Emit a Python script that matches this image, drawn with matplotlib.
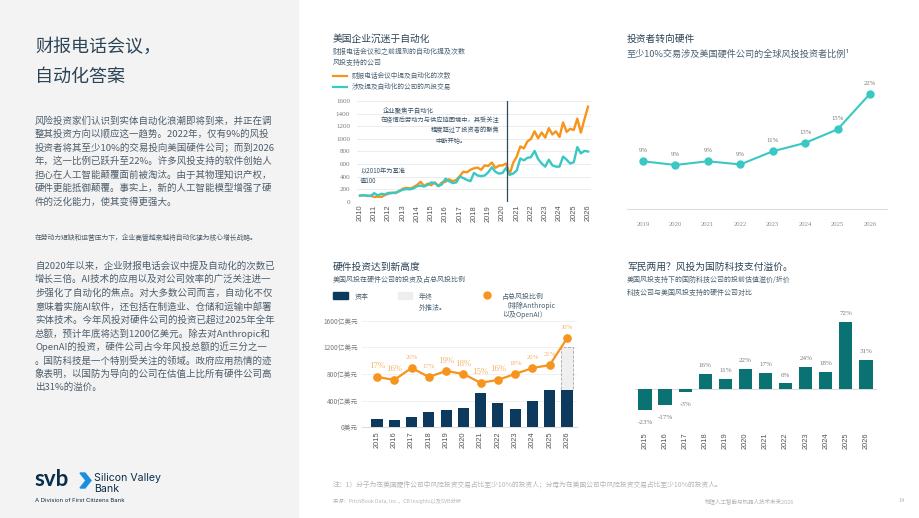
import numpy as np
import matplotlib.pyplot as plt
from matplotlib.patches import Rectangle, Polygon

plt.rcParams['font.family'] = ['Noto Sans CJK SC', 'DejaVu Sans']

W, H = 920, 518

NAVY = '#0d3a5c'
ORANGE = '#f7941d'
ORANGE_LT = '#f6b36c'
TEAL = '#3ac8c4'
DTEAL = '#0b7274'
TITLE = '#2c4456'
SUB = '#4b6272'
BODY = '#4d5e6c'
GRAY = '#7a7a7a'

# chart 1: automation mentions, quarterly, 2010 = 100
calls = [100, 105, 95, 100, 80, 85, 80, 110, 130, 150, 140, 175, 210, 225, 215, 235,
         270, 320, 255, 290, 265, 310, 255, 310, 320, 360, 330, 350, 410, 480, 470, 510,
         535, 545, 510, 580, 570, 625, 540, 575, 580, 610, 440, 620, 720, 880, 850, 960,
         1000, 1120, 1010, 1100, 1020, 1170, 1070, 1120, 1030, 1260, 1110, 1160, 1140, 1320,
         1100, 1310, 1510]
deals = [100, 110, 100, 95, 140, 105, 130, 120, 145, 140, 150, 170, 195, 205, 200, 215,
         250, 260, 245, 270, 310, 300, 250, 280, 370, 330, 300, 310, 400, 380, 350, 330,
         460, 420, 410, 420, 470, 550, 480, 450, 460, 540, 430, 450, 500, 690, 660, 700,
         710, 810, 680, 610, 560, 670, 580, 560, 560, 720, 670, 610, 630, 870, 770, 810, 800]
years1 = list(range(2010, 2027))
covid_break = 2020.3

# chart 2: share of investors with >=10% deals in US hardware
years2 = [2019, 2020, 2021, 2022, 2023, 2024, 2025, 2026]
share = [9.1, 8.4, 9.1, 8.5, 11.0, 12.6, 15.2, 22.0]
share_labels = ['9%', '9%', '9%', '9%', '11%', '13%', '15%', '22%']

# chart 3: US VC into hardware (亿美元) and share of total VC
years3 = [str(y) for y in range(2015, 2027)]
capital = [120, 110, 160, 225, 255, 295, 515, 370, 270, 390, 555, 555]
year_end_est = 1200
pct = [17, 16, 20, 17, 19, 18, 15, 16, 18, 20, 21, 30]
big_label = [1, 1, 0, 0, 1, 1, 1, 1, 0, 0, 0, 0]

# chart 4: defense tech valuation premium vs hardware
years4 = [str(y) for y in range(2015, 2027)]
premium = [-23, -17, -3, 16, 11, 22, 17, 6, 24, 18, 72, 31]

para1 = ['风险投资家们认识到实体自动化浪潮即将到来，并正在调',
         '整其投资方向以顺应这一趋势。2022年，仅有9%的风投',
         '投资者将其至少10%的交易投向美国硬件公司；而到2026',
         '年，这一比例已跃升至22%。许多风投支持的软件创始人',
         '担心在人工智能颠覆面前被淘汰。由于其物理知识产权，',
         '硬件更能抵御颠覆。事实上，新的人工智能模型增强了硬',
         '件的泛化能力，使其变得更强大。']
para2 = ['自2020年以来，企业财报电话会议中提及自动化的次数已',
         '增长三倍。AI技术的应用以及对公司效率的广泛关注进一',
         '步强化了自动化的焦点。对大多数公司而言，自动化不仅',
         '意味着实施AI软件，还包括在制造业、仓储和运输中部署',
         '实体技术。今年风投对硬件公司的投资已超过2025年全年',
         '总额，预计年底将达到1200亿美元。除去对Anthropic和',
         'OpenAI的投资，硬件公司占今年风投总额的近三分之一',
         '。国防科技是一个特别受关注的领域。政府应用热情的迹',
         '象表明，以国防为导向的公司在估值上比所有硬件公司高',
         '出31%的溢价。']

fig = plt.figure(figsize=(9.2, 5.18), dpi=100)


def px_axes(left, top, right, bottom):
    return fig.add_axes([left / W, 1 - bottom / H, (right - left) / W, (bottom - top) / H])


def ftext(x, y, s, **kw):
    kw.setdefault('va', 'center')
    fig.text(x / W, 1 - y / H, s, **kw)


def clean(ax):
    for sp in ax.spines.values():
        sp.set_visible(False)
    ax.tick_params(length=0)


# left panel
fig.patches.append(Rectangle((0, 0), 298 / W, 1, transform=fig.transFigure,
                             color='#f3f3f3', zorder=0))
ftext(35, 47, '财报电话会议，', fontsize=13, color=TITLE)
ftext(35, 77, '自动化答案', fontsize=13, color=TITLE)
for i, line in enumerate(para1):
    ftext(35, 120.7 + i * 13.5, line, fontsize=6.8, color=BODY)
ftext(35, 238, '在劳动力短缺和运营压力下，企业高管越来越将自动化视为核心增长战略。',
      fontsize=4.9, color=BODY)
for i, line in enumerate(para2):
    ftext(35, 266 + i * 13.5, line, fontsize=6.8, color=BODY)

# logo
ftext(34, 480, 'svb', fontsize=16, fontweight='bold', color='#0a2e4a',
      family=['Lato', 'DejaVu Sans'])
fig.patches.append(Polygon([(80 / W, 1 - 473 / H), (85 / W, 1 - 473 / H), (91 / W, 1 - 480.5 / H),
                            (85 / W, 1 - 488 / H), (80 / W, 1 - 488 / H), (86 / W, 1 - 480.5 / H)],
                           closed=True, transform=fig.transFigure, color='#1b8ee0'))
ftext(94, 478, 'Silicon Valley', fontsize=7.6, color='#0a2e4a', family=['Inter', 'DejaVu Sans'])
ftext(94, 488.5, 'Bank', fontsize=7.6, color='#0a2e4a', family=['Inter', 'DejaVu Sans'])
ftext(35, 501, 'A Division of First Citizens Bank', fontsize=4.3, color='#0a2e4a',
      family=['Inter', 'DejaVu Sans'])

# ---- chart 1
ftext(333, 38.5, '美国企业沉迷于自动化', fontsize=7, color=TITLE)
ftext(333, 51.5, '财报电话会议和之前提到的自动化提及次数', fontsize=5, color=SUB)
ftext(333, 63.5, '风投支持的公司', fontsize=5, color=SUB)
fig.lines.append(plt.Line2D([333 / W, 347 / W], [1 - 75.5 / H] * 2, color=ORANGE, lw=1.6,
                            transform=fig.transFigure))
fig.lines.append(plt.Line2D([333 / W, 347 / W], [1 - 86.5 / H] * 2, color=TEAL, lw=1.6,
                            transform=fig.transFigure))
ftext(352, 75.5, '财报电话会议中提及自动化的次数', fontsize=4.8, color=SUB)
ftext(352, 86.5, '涉及提及自动化的公司的风投交易', fontsize=4.8, color=SUB)

ax1 = px_axes(357, 101, 591, 202)
qx = [years1[0] + i / 4 for i in range(len(calls))]
ax1.plot(qx, calls, color=ORANGE, lw=1.7, zorder=3)
ax1.plot(qx, deals, color=TEAL, lw=1.7, zorder=3)
ax1.axvline(covid_break, color='#2d4a5a', lw=0.9, zorder=4)
ax1.set_xlim(2009.79, 2026.21)
ax1.set_ylim(0, 1600)
ax1.set_yticks(range(0, 1601, 200))
ax1.set_xticks(years1)
ax1.set_xticklabels([str(y) for y in years1], rotation=90, fontsize=5.4, color='#555555',
                    family='Liberation Sans')
ax1.tick_params(axis='y', labelsize=5, labelcolor=GRAY, pad=5)
ax1.tick_params(axis='x', pad=2)
ax1.grid(axis='y', color='#e9e9e9', lw=0.6)
ax1.set_axisbelow(True)
clean(ax1)
for lbl in ax1.get_yticklabels():
    lbl.set_family('Liberation Serif')
ftext(383, 111, '企业聚焦于自动化', fontsize=4.6, color='#3b5468')
ftext(381, 120.5, '在疫情后劳动力与供应链困境中，其受关注', fontsize=4.5, color='#3b5468')
ftext(431, 130, '程度超过了投资者的聚焦', fontsize=4.5, color='#3b5468')
ftext(435, 141.5, '中断开始。', fontsize=4.5, color='#3b5468')
ftext(360, 171.5, '以2010年为基准', fontsize=4.5, color='#3b5468')
ftext(360, 181, '值100', fontsize=4.5, color='#3b5468')

# ---- chart 2
ftext(627, 39, '投资者转向硬件', fontsize=7, color=TITLE)
ftext(627, 54.5, '至少10%交易涉及美国硬件公司的全球风投投资者比例¹', fontsize=6.6, color=SUB)
ax2 = px_axes(627, 80, 887, 209)
ax2.plot(years2, share, color=TEAL, lw=1.5, marker='o', ms=5, zorder=3)
for x, v, s in zip(years2, share, share_labels):
    ax2.annotate(s, (x, v), xytext=(0, 7.5), textcoords='offset points', ha='center',
                 va='center', fontsize=4.8, color=GRAY, family='Liberation Serif')
ax2.set_xlim(2018.51, 2026.52)
ax2.set_ylim(0, 24.6)
ax2.set_yticks([])
ax2.set_xticks(years2)
ax2.set_xticklabels([str(y) for y in years2], fontsize=4.8, color='#8a8a8a',
                    family='Liberation Serif')
ax2.tick_params(axis='x', pad=9)
clean(ax2)
ax2.spines['bottom'].set_visible(True)
ax2.spines['bottom'].set_color('#dddddd')
ax2.spines['bottom'].set_linewidth(0.8)

# ---- chart 3
ftext(333, 267, '硬件投资达到新高度', fontsize=7, color=TITLE)
ftext(333, 280, '美国风投在硬件公司的投资及占总风投比例', fontsize=5, color=SUB)
fig.patches.append(Rectangle((333 / W, 1 - 298.5 / H), 15 / W, 6.5 / H, transform=fig.transFigure,
                             color=NAVY))
fig.patches.append(Rectangle((398 / W, 1 - 298.5 / H), 14 / W, 6.5 / H, transform=fig.transFigure,
                             color='#eeeeee'))
fig.lines.append(plt.Line2D([487 / W], [1 - 294.5 / H], marker='o', ms=5, color=ORANGE,
                            transform=fig.transFigure))
ftext(355, 297, '资本', fontsize=5, color=SUB)
ftext(419, 297, '年终', fontsize=5, color=SUB)
ftext(419, 307.5, '外推法。', fontsize=5, color=SUB)
ftext(502, 297, '占总风投比例', fontsize=5, color=SUB)
ftext(502, 305.5, '（排除Anthropic', fontsize=5, color=SUB)
ftext(502, 314.5, '以及OpenAI）', fontsize=5, color=SUB)

ax3 = px_axes(362, 320.6, 577, 427.3)
x3 = np.arange(len(years3))
ax3.bar(x3, capital, width=0.64, color=NAVY, zorder=3)
ax3.bar(x3[-1], year_end_est - capital[-1], bottom=capital[-1], width=0.64, color='#efefef',
        edgecolor='#a8a8a8', linestyle='--', lw=0.6, zorder=2)
ax3.set_xlim(-0.87, 11.58)
ax3.set_ylim(0, 1600)
ax3.set_yticks([0, 400, 800, 1200, 1600])
ax3.set_yticklabels(['0美元', '400亿美元', '800亿美元', '1200亿美元', '1600亿美元'],
                    fontsize=4.8, color=GRAY)
ax3.set_xticks(x3)
ax3.set_xticklabels(years3, rotation=90, fontsize=5.4, color='#555555', family='Liberation Sans')
ax3.tick_params(axis='x', pad=3)
ax3.tick_params(axis='y', pad=3)
ax3.grid(axis='y', color='#eeeeee', lw=0.6)
ax3.set_axisbelow(True)
clean(ax3)
ax3.spines['bottom'].set_visible(True)
ax3.spines['bottom'].set_color('#dddddd')

ax3b = ax3.twinx()
ax3b.plot(x3, pct, color=ORANGE, lw=1.6, marker='o', ms=5.2, zorder=4)
for x, v, big in zip(x3, pct, big_label):
    ax3b.annotate(f'{v}%', (x, v), xytext=(0, 7.5), textcoords='offset points', ha='center',
                  va='center', fontsize=6.4 if big else 4.8, color=ORANGE_LT,
                  family='Liberation Serif', annotation_clip=False)
ax3b.set_ylim(0, 36)
ax3b.set_yticks([])
clean(ax3b)

# ---- chart 4
ftext(627, 266.5, '军民两用？风投为国防科技支付溢价。', fontsize=7, color=TITLE)
ftext(627, 280, '美国风投支持下的国防科技公司的投前估值溢价/折价', fontsize=5, color=SUB)
ftext(627, 292.5, '科技公司与美国风投支持的硬件公司对比', fontsize=5, color=SUB)
ax4 = px_axes(635, 310, 877, 420)
x4 = np.arange(len(years4))
ax4.bar(x4, premium, width=0.66, color=DTEAL, zorder=3)
ax4.axhline(0, color='#dddddd', lw=0.8, zorder=2)
for x, v in zip(x4, premium):
    off = 6 if v >= 0 else -9
    ax4.annotate(f'{v}%', (x, v), xytext=(0, off), textcoords='offset points', ha='center',
                 va='center', fontsize=5, color=GRAY, family='Liberation Serif')
ax4.set_xlim(-0.5, 11.55)
ax4.set_ylim(-33.3, 84.9)
ax4.set_yticks([])
ax4.set_xticks(x4)
ax4.set_xticklabels(years4, rotation=90, fontsize=5.4, color='#555555', family='Liberation Sans')
ax4.tick_params(axis='x', pad=9)
clean(ax4)

# footer
ftext(333, 485, '注：1）分子为在美国硬件公司中风险投资交易占比至少10%的投资人；'
                '分母为在美国公司中风险投资交易占比至少10%的投资人。',
      fontsize=4.9, color='#b5b5b5')
ftext(333, 501, '来源：PitchBook Data, Inc.，CB Insights以及SVB分析', fontsize=3.8, color='#b5b5b5')
ftext(705, 501, '物理人工智能与机器人技术未来2026', fontsize=4, color='#b5b5b5')
ftext(899, 501, '14', fontsize=4, color='#b5b5b5')

fig.savefig('out.png', dpi=100)
